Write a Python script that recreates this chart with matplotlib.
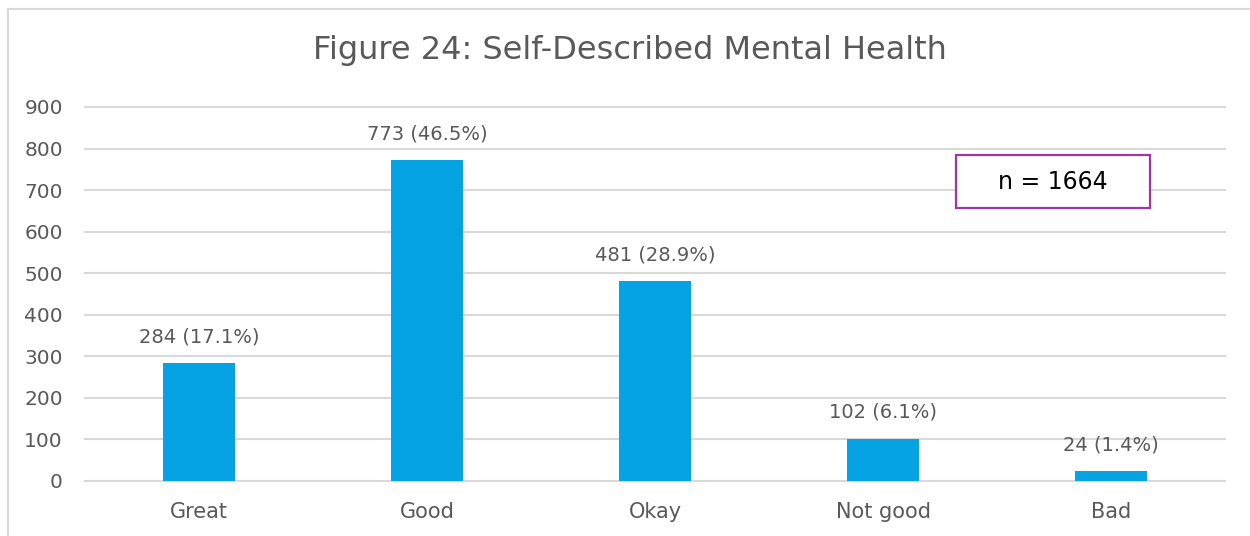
"""Bar chart of self-described mental health responses."""

import matplotlib

matplotlib.use("Agg")
import matplotlib.pyplot as plt
from matplotlib.lines import Line2D
from matplotlib.patches import Rectangle

CATEGORIES = ["Great", "Good", "Okay", "Not good", "Bad"]
COUNTS = [284, 773, 481, 102, 24]
PERCENTS = [17.1, 46.5, 28.9, 6.1, 1.4]
Y_TICKS = [0, 100, 200, 300, 400, 500, 600, 700, 800, 900]
TOTAL_LABEL = "n = 1664"
TITLE = "Figure 24: Self-Described Mental Health"

BAR_COLOR = "#05A3E4"
TEXT_COLOR = "#595959"
GRID_COLOR = "#D9D9D9"
BOX_COLOR = "#A235A6"

plt.rcParams["font.family"] = ["DejaVu Sans"]

fig = plt.figure(figsize=(12.5, 5.36), dpi=100)

# outer chart frame: only the top and left edges show in the cropped source
frame_x = 7.5 / 1250
frame_y = 1 - 8.5 / 536
fig.lines.append(Line2D([frame_x, 1], [frame_y, frame_y], transform=fig.transFigure,
                        color=GRID_COLOR, linewidth=1.5))
fig.lines.append(Line2D([frame_x, frame_x], [0, frame_y], transform=fig.transFigure,
                        color=GRID_COLOR, linewidth=1.5))

ax = fig.add_axes([85 / 1250, 55 / 536, 1140 / 1250, 374 / 536])

positions = range(len(CATEGORIES))
bars = ax.bar(positions, COUNTS, width=0.316, color=BAR_COLOR, zorder=3)

for bar, count, pct in zip(bars, COUNTS, PERCENTS):
    ax.annotate(
        f"{count} ({pct:.1f}%)",
        (bar.get_x() + bar.get_width() / 2, bar.get_height()),
        xytext=(0, 12),
        textcoords="offset points",
        ha="center",
        va="bottom",
        fontsize=14,
        color=TEXT_COLOR,
    )

ax.set_xlim(-0.5, len(CATEGORIES) - 0.5)
ax.set_ylim(0, 900)
ax.set_yticks(Y_TICKS)
ax.set_xticks(list(positions))
ax.set_xticklabels(CATEGORIES)
ax.tick_params(axis="both", length=0, labelsize=14.5, labelcolor=TEXT_COLOR)
ax.tick_params(axis="y", pad=16)
ax.tick_params(axis="x", labelsize=15, pad=15)
ax.grid(axis="y", color=GRID_COLOR, linewidth=1.5, zorder=0)
for line in ax.get_ygridlines():
    line.set_clip_on(False)
for spine in ax.spines.values():
    spine.set_visible(False)

fig.text(630 / 1250, 1 - 50 / 536, TITLE, ha="center", va="center",
         fontsize=23, color=TEXT_COLOR)

# sample size box
fig.patches.append(
    Rectangle((956 / 1250, 1 - 208 / 536), 194 / 1250, 53 / 536,
              transform=fig.transFigure, facecolor="white",
              edgecolor=BOX_COLOR, linewidth=1.6, zorder=5)
)
fig.text(1053 / 1250, 1 - 182 / 536, TOTAL_LABEL, ha="center", va="center",
         fontsize=17, color="black", zorder=6)

fig.savefig("out.png", dpi=100)
